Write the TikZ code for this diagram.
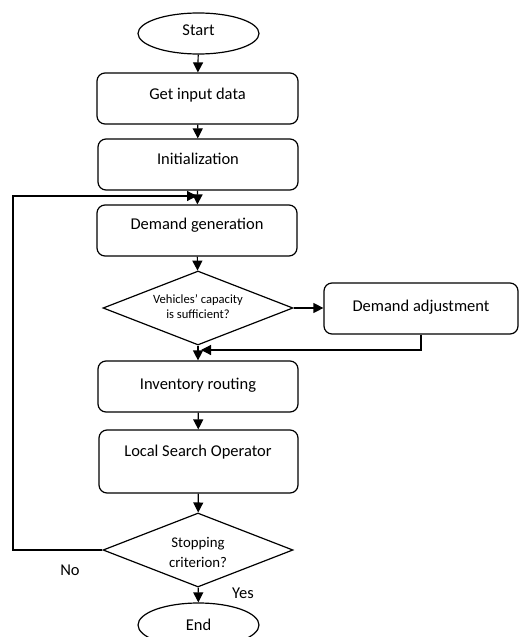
\documentclass[tikz,border=0pt]{standalone}
\usepackage{fontspec}
\setmainfont{Carlito}
\usetikzlibrary{shapes.geometric,arrows.meta}
\begin{document}
\begin{tikzpicture}[x=1pt,y=-1pt,
  line width=1.2pt,
  box/.style={draw,rounded corners=8pt,minimum width=200pt,minimum height=51pt,inner sep=0pt},
  term/.style={draw,ellipse,minimum width=121pt,minimum height=41pt,inner sep=0pt},
  dec/.style={draw,diamond,minimum width=190pt,minimum height=74pt,inner sep=0pt},
  txt/.style={font=\fontsize{16.5}{19}\selectfont,inner sep=0pt},
  stxt/.style={font=\fontsize{12.6}{15}\selectfont,inner sep=0pt,align=center},
  mtxt/.style={font=\fontsize{14.8}{20}\selectfont,inner sep=0pt,align=center},
  arr/.style={-{Triangle[length=10pt,width=10pt]}},
]
\useasboundingbox (0,0) rectangle (519,637);
% shapes
\node[term] (start) at (198.5,33.5) {};
\node[box,minimum width=201pt] (get) at (197.5,98.5) {};
\node[box] (init) at (198,164.5) {};
\node[box] (dem) at (197,230.5) {};
\node[dec] (d1) at (198,308) {};
\node[box,minimum width=194pt] (adj) at (421,308.5) {};
\node[box] (inv) at (198,386.5) {};
\node[box,minimum width=199pt,minimum height=63pt] (ls) at (198.5,461.5) {};
\node[dec] (d2) at (198,550) {};
\node[term,minimum height=44pt] (end) at (198.5,625) {};
% texts
\node[txt] (tstart) at (198.5,30) {Start};
\node[txt] (tget) at (197.5,95) {Get input data};
\node[txt] (tinit) at (198,159) {Initialization};
\node[txt] (tdem) at (197,225) {Demand generation};
\node[stxt] (td1) at (198,306.5) {Vehicles’ capacity\\is sufficient?};
\node[txt] (tadj) at (421,307) {Demand adjustment};
\node[txt] (tinv) at (198,385) {Inventory routing};
\node[txt] (tls) at (198,452) {Local Search Operator};
\node[mtxt] (td2) at (198,552) {Stopping\\criterion?};
\node[txt] (tend) at (198.5,625) {End};
\node[txt] (tno) at (70,570) {No};
\node[txt] (tyes) at (243,593) {Yes};
% connectors
\coordinate (ret) at (201,350);
\coordinate (lpc) at (13,196);
\coordinate (lp) at (197,196);
\draw[arr] (start) -- (get);
\draw[arr] (get) -- (init);
\draw[arr] (init) -- (dem);
\draw[arr] (dem) -- (d1);
\draw[arr] (d1.east) -- (d1.east -| adj.west);
\draw[arr] (d1) -- (inv);
\draw[arr] (adj.south) |- (ret);
\draw[arr] (inv) -- (ls);
\draw[arr] (ls) -- (d2);
\draw[arr] (d2) -- (end);
\draw[arr] (d2.west) -| (lpc) -- (lp);
\end{tikzpicture}
\end{document}
